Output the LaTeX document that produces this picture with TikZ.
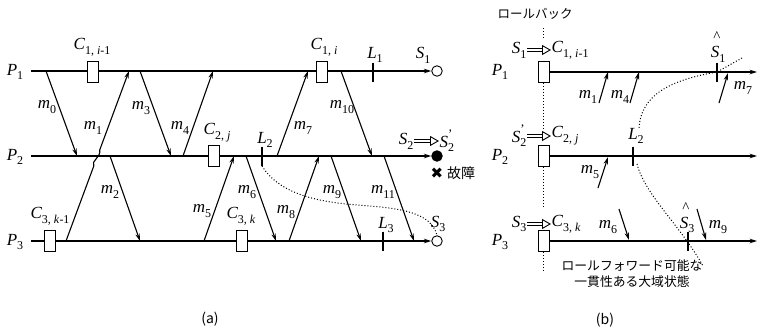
\documentclass[tikz,border=0pt]{standalone}
\usepackage{fontspec}
\setmainfont{Liberation Serif}
\newfontfamily\jp{Noto Sans CJK JP}
\newfontfamily\dv{DejaVu Sans}
\usetikzlibrary{arrows.meta}
\newcommand\sbx[1]{\raisebox{-0.28em}{\fontsize{12}{12}\selectfont #1}}
\newcommand\lv[2]{\textit{#1}\sbx{#2}}
\newcommand\prm{\rlap{\raisebox{0.5em}{\fontsize{13}{13}\selectfont ’}}}
\begin{document}
\begin{tikzpicture}[x=1pt,y=-1pt,
 procarr/.style={line width=1.1pt,-{Stealth[length=7.5pt,width=4.6pt]}},
 msg/.style={line width=1.1pt,-{Stealth[length=7.5pt,width=4.4pt]}},
 ckpt/.style={draw,fill=white,line width=0.9pt,minimum width=11pt,minimum height=21pt,inner sep=0pt},
 lbl/.style={inner sep=0.5pt,font=\fontsize{17}{18}\selectfont},
 hatl/.style={inner sep=0pt,font=\fontsize{15}{15}\selectfont},
 tk/.style={line width=1.1pt},
 dots/.style={dotted,line width=1pt},
 dbl/.style={double,double distance=2.4pt,line width=0.7pt,-{Triangle[open,length=9pt,width=10pt,line width=0.9pt]}},
 jpt/.style={font=\jp\fontsize{12.8}{16}\selectfont,inner sep=0pt},
 endc/.style={circle,draw,line width=0.9pt,minimum size=10.5pt,inner sep=0pt}]
\useasboundingbox (0,0) rectangle (758,330);

% ================= (a) =================
\coordinate (a1s) at (31,71);
\coordinate (a2s) at (31,156);
\coordinate (a3s) at (31,241);
\node[endc,fill=white] (s1c) at (437,71) {};
\node[endc,fill=black] (s2c) at (437,156) {};
\node[endc,fill=white] (s3c) at (437,241) {};
\draw[procarr] (a1s) -- (s1c.west);
\draw[procarr] (a2s) -- (s2c.west);
\draw[procarr] (a3s) -- (s3c.west);
\node[lbl] (ap1) at (15,72) {\lv{P}{1}};
\node[lbl] (ap2) at (15,157) {\lv{P}{2}};
\node[lbl] (ap3) at (15,242) {\lv{P}{3}};

\coordinate (m0s) at (46,71);   \coordinate (m0e) at (77,156);
\coordinate (m1s) at (66,241);  \coordinate (m1e) at (129,71);
\coordinate (m1a) at (93.8,166); \coordinate (m1b) at (99.7,150);
\coordinate (m2s) at (110,156); \coordinate (m2e) at (140,241);
\coordinate (m3s) at (140,71);  \coordinate (m3e) at (171,156);
\coordinate (m4s) at (183,156); \coordinate (m4e) at (213,71);
\coordinate (m5s) at (204,241); \coordinate (m5e) at (234,156);
\coordinate (m6s) at (246,156); \coordinate (m6e) at (276,241);
\coordinate (m7s) at (277,156); \coordinate (m7e) at (308,71);
\coordinate (m8s) at (289,241); \coordinate (m8e) at (319,156);
\coordinate (m9s) at (331,156); \coordinate (m9e) at (361,241);
\coordinate (m10s) at (341,71); \coordinate (m10e) at (372,156);
\coordinate (m11s) at (384,156);\coordinate (m11e) at (414,241);

\draw[msg] (m0s) -- (m0e);
\draw[msg] (m1s) -- (m1a) .. controls (90.5,161) and (101.5,157) .. (m1b) -- (m1e);
\draw[msg] (m2s) -- (m2e);
\draw[msg] (m3s) -- (m3e);
\draw[msg] (m4s) -- (m4e);
\draw[msg] (m5s) -- (m5e);
\draw[msg] (m6s) -- (m6e);
\draw[msg] (m7s) -- (m7e);
\draw[msg] (m8s) -- (m8e);
\draw[msg] (m9s) -- (m9e);
\draw[msg] (m10s) -- (m10e);
\draw[msg] (m11s) -- (m11e);

\node[lbl] (lm0) at (47,107) {\lv{m}{0}};
\node[lbl] (lm1) at (93,128) {\lv{m}{1}};
\node[lbl] (lm2) at (110,192) {\lv{m}{2}};
\node[lbl] (lm3) at (141,108) {\lv{m}{3}};
\node[lbl] (lm4) at (180,128) {\lv{m}{4}};
\node[lbl] (lm5) at (202,211) {\lv{m}{5}};
\node[lbl] (lm6) at (247,192) {\lv{m}{6}};
\node[lbl] (lm7) at (303,128) {\lv{m}{7}};
\node[lbl] (lm8) at (286,212) {\lv{m}{8}};
\node[lbl] (lm9) at (332,192) {\lv{m}{9}};
\node[lbl] (lm10) at (342,107) {\lv{m}{10}};
\node[lbl] (lm11) at (383,192) {\lv{m}{11}};

\node[ckpt] (c1a) at (92.5,71.5) {};
\node[ckpt] (c1b) at (321.5,71.5) {};
\node[ckpt] (c2a) at (213.5,156) {};
\node[ckpt] (c3a) at (49.5,241) {};
\node[ckpt] (c3b) at (241.5,241) {};
\node[lbl] (lc1a) at (92,47) {\lv{C}{1, \textit{i}-1}};
\node[lbl] (lc1b) at (324,47) {\lv{C}{1, \textit{i}}};
\node[lbl] (lc2a) at (217,133) {\lv{C}{2, \textit{j}}};
\node[lbl] (lc3a) at (50,216) {\lv{C}{3, \textit{k}-1}};
\node[lbl] (lc3b) at (241,216) {\lv{C}{3, \textit{k}}};

\coordinate (l1t) at (373,62.5); \coordinate (l1b) at (373,81.5);
\coordinate (l2t) at (262,146.5); \coordinate (l2b) at (262,166);
\coordinate (l3t) at (383,231.5); \coordinate (l3b) at (383,251);
\draw[tk] (l1t) -- (l1b);
\draw[tk] (l2t) -- (l2b);
\draw[tk] (l3t) -- (l3b);
\node[lbl] (ll1) at (375,55) {\lv{L}{1}};
\node[lbl] (ll2) at (265,140) {\lv{L}{2}};
\node[lbl] (ll3) at (386,225) {\lv{L}{3}};
\node[lbl] (ls1) at (423,55) {\lv{S}{1}};
\node[lbl] (ls3) at (438,224) {\lv{S}{3}};

\node[lbl,anchor=east] (ls2) at (414,141) {\lv{S}{2}};
\node[lbl,anchor=west] (ls2p) at (439,141) {\textit{S}\prm\sbx{2}};
\draw[dbl] (ls2.east) -- (ls2p.west);

\node[inner sep=0pt,font=\dv\fontsize{15}{15}\selectfont] (fx) at (437,173) {✖};
\node[jpt,anchor=west,font=\jp\fontsize{14}{16}\selectfont] (fl) at (447,173) {故障};

\draw[dots] (l2b) .. controls (280,195) and (320,202) .. (357,205)
  .. controls (400,208) and (431,212) .. (s3c.north);

\node[jpt,font=\jp\fontsize{14}{16}\selectfont] (capa) at (210,319) {(a)};

% ================= (b) =================
\node[lbl] (bp1) at (500,72) {\lv{P}{1}};
\node[lbl] (bp2) at (500,157) {\lv{P}{2}};
\node[lbl] (bp3) at (500,242) {\lv{P}{3}};
\node[ckpt] (bc1) at (543.5,72) {};
\node[ckpt] (bc2) at (543.5,156) {};
\node[ckpt] (bc3) at (543.5,241) {};
\coordinate (b1e) at (757,72);
\coordinate (b2e) at (757,156);
\coordinate (b3e) at (757,241);
\draw[procarr] (bc1.east) -- (b1e);
\draw[procarr] (bc2.east) -- (b2e);
\draw[procarr] (bc3.east) -- (b3e);

\node[jpt,font=\jp\fontsize{12.5}{14}\selectfont] (rb) at (535,14) {ロールバック};
\coordinate (v0) at (543.5,28);  \coordinate (v1) at (543.5,39);
\coordinate (v2) at (543.5,128); \coordinate (v3) at (543.5,206);
\coordinate (v4) at (543.5,270);
\draw[dots] (v0) -- (v1);
\draw[dots] (bc1.south) -- (v2);
\draw[dots] (bc2.south) -- (v3);
\draw[dots] (bc3.south) -- (v4);

\node[lbl,anchor=east] (bs1) at (527,50) {\lv{S}{1}};
\node[lbl,anchor=west] (bk1) at (551,50) {\lv{C}{1, \textit{i}-1}};
\draw[dbl] (bs1.east) -- (bk1.west);
\node[lbl,anchor=east] (bs2) at (527,136) {\textit{S}\prm\sbx{2}};
\node[lbl,anchor=west] (bk2) at (551,136) {\lv{C}{2, \textit{j}}};
\draw[dbl] (bs2.east) -- (bk2.west);
\node[lbl,anchor=east] (bs3) at (527,224) {\lv{S}{3}};
\node[lbl,anchor=west] (bk3) at (551,224) {\lv{C}{3, \textit{k}}};
\draw[dbl] (bs3.east) -- (bk3.west);

\coordinate (bl2t) at (633,146.5); \coordinate (bl2b) at (633,166);
\coordinate (bh1t) at (717,62.5);  \coordinate (bh1b) at (717,81.5);
\coordinate (bh3t) at (688,231.5); \coordinate (bh3b) at (688,251);
\draw[tk] (bl2t) -- (bl2b);
\draw[tk] (bh1t) -- (bh1b);
\draw[tk] (bh3t) -- (bh3b);
\node[lbl] (bll2) at (636,136) {\lv{L}{2}};
\node[lbl] (bsh1) at (718,54) {\lv{S}{1}};
\node[hatl] (bht1) at (717,37) {\^{}};
\node[lbl] (bsh3) at (687,225) {\lv{S}{3}};
\node[hatl] (bht3) at (686,208) {\^{}};

\coordinate (n1s) at (599,103); \coordinate (n1e) at (608,72);
\coordinate (n4s) at (630,103); \coordinate (n4e) at (639,72);
\coordinate (n7s) at (719,103); \coordinate (n7e) at (728,73);
\coordinate (n5s) at (598,188); \coordinate (n5e) at (608,157);
\coordinate (n6s) at (619,209); \coordinate (n6e) at (629,240);
\coordinate (n9s) at (697,209); \coordinate (n9e) at (706,240);
\draw[msg] (n1s) -- (n1e);
\draw[msg] (n4s) -- (n4e);
\draw[msg] (n7s) -- (n7e);
\draw[msg] (n5s) -- (n5e);
\draw[msg] (n6s) -- (n6e);
\draw[msg] (n9s) -- (n9e);
\node[lbl] (bm1) at (588,97) {\lv{m}{1}};
\node[lbl] (bm4) at (620,97) {\lv{m}{4}};
\node[lbl] (bm7) at (743,88) {\lv{m}{7}};
\node[lbl] (bm5) at (590,172) {\lv{m}{5}};
\node[lbl] (bm6) at (608,227) {\lv{m}{6}};
\node[lbl] (bm9) at (718,227) {\lv{m}{9}};

\coordinate (cu0) at (742,58);
\coordinate (cu1) at (717,72);
\coordinate (cu2) at (639,128);
\coordinate (cu3) at (637,164);
\coordinate (cu4) at (703,266);
\draw[dots] (cu0) -- (cu1) .. controls (670,80) and (641,95) .. (cu2);
\draw[dots] (cu3) .. controls (645,195) and (680,225) .. (cu4);

\node[jpt,align=center,font=\jp\fontsize{12.8}{16}\selectfont] (rf) at (632,274) {ロールフォワード可能な\\一貫性ある大域状態};

\node[jpt,font=\jp\fontsize{14}{16}\selectfont] (capb) at (605,320) {(b)};
\end{tikzpicture}
\end{document}
